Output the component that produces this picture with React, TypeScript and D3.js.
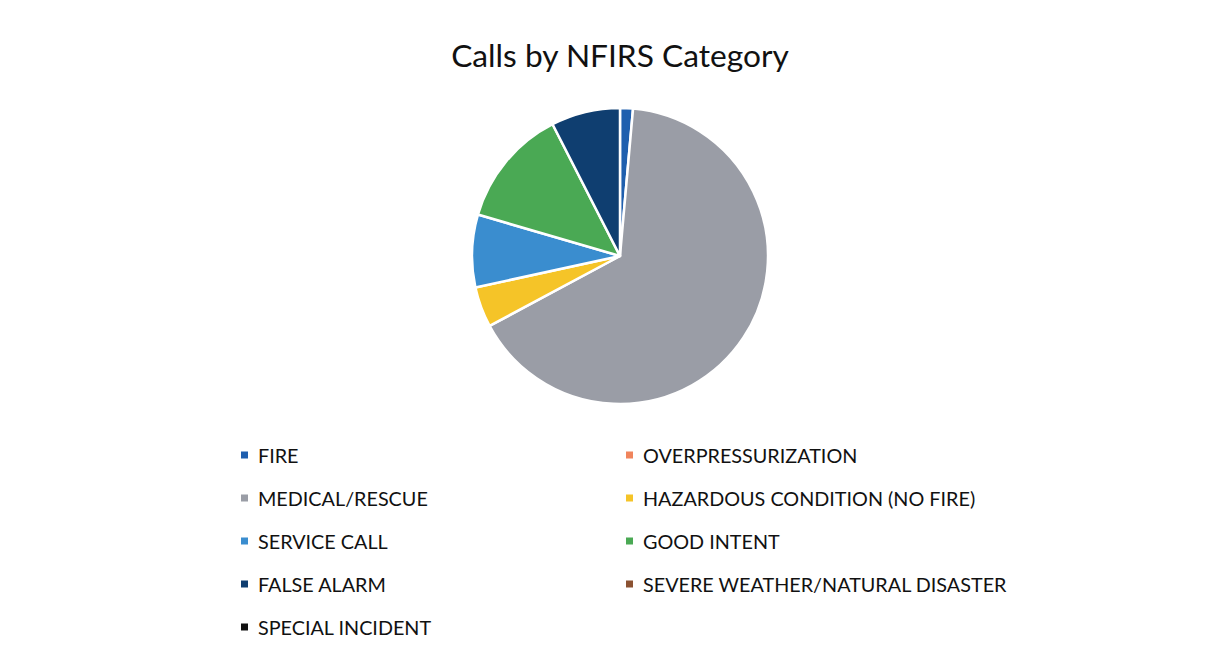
import React from "react";
import * as d3 from "d3";

const categories = [
  "FIRE",
  "OVERPRESSURIZATION",
  "MEDICAL/RESCUE",
  "HAZARDOUS CONDITION (NO FIRE)",
  "SERVICE CALL",
  "GOOD INTENT",
  "FALSE ALARM",
  "SEVERE WEATHER/NATURAL DISASTER",
  "SPECIAL INCIDENT",
];
const values = [1.4, 0, 65.5, 4.4, 7.9, 12.9, 7.5, 0, 0];
const colors = [
  "#1f5fae",
  "#f0845c",
  "#9a9da6",
  "#f5c428",
  "#3a8dcf",
  "#4aa954",
  "#0f3e70",
  "#8b5232",
  "#111111",
];

const W = 1232;
const H = 658;
const cx = 620;
const cy = 256;
const R = 148;

export default function App() {
  const pie = d3.pie<number>().sort(null).value((d) => d);
  const arcs = pie(values);
  const arc = d3.arc<d3.PieArcDatum<number>>().innerRadius(0).outerRadius(R);
  const font = "Lato, 'Open Sans', sans-serif";
  const rowY = d3.scaleLinear().domain([0, 4]).range([455, 627]);
  return (
    <svg
      width={W}
      height={H}
      style={{ position: "absolute", left: 0, top: 0, background: "#fff" }}
    >
      <text
        x={620}
        y={55}
        textAnchor="middle"
        dominantBaseline="central"
        fontFamily={font}
        fontSize={31.7}
        fill="#111"
      >
        Calls by NFIRS Category
      </text>
      <g transform={`translate(${cx},${cy})`}>
        {arcs.map((a, i) =>
          a.value > 0 ? (
            <path
              key={i}
              d={arc(a) || ""}
              fill={colors[i]}
              stroke="#fff"
              strokeWidth={2.5}
              strokeLinejoin="round"
            />
          ) : null
        )}
      </g>
      {categories.map((c, i) => {
        const col = i % 2;
        const row = Math.floor(i / 2);
        const mx = col === 0 ? 241 : 626;
        const tx = col === 0 ? 258 : 643;
        const y = rowY(row);
        return (
          <g key={c}>
            <rect x={mx} y={y - 3.5} width={7} height={7} fill={colors[i]} />
            <text
              x={tx}
              y={y}
              dominantBaseline="central"
              fontFamily={font}
              fontSize={19.8}
              fill="#111"
            >
              {c}
            </text>
          </g>
        );
      })}
    </svg>
  );
}
